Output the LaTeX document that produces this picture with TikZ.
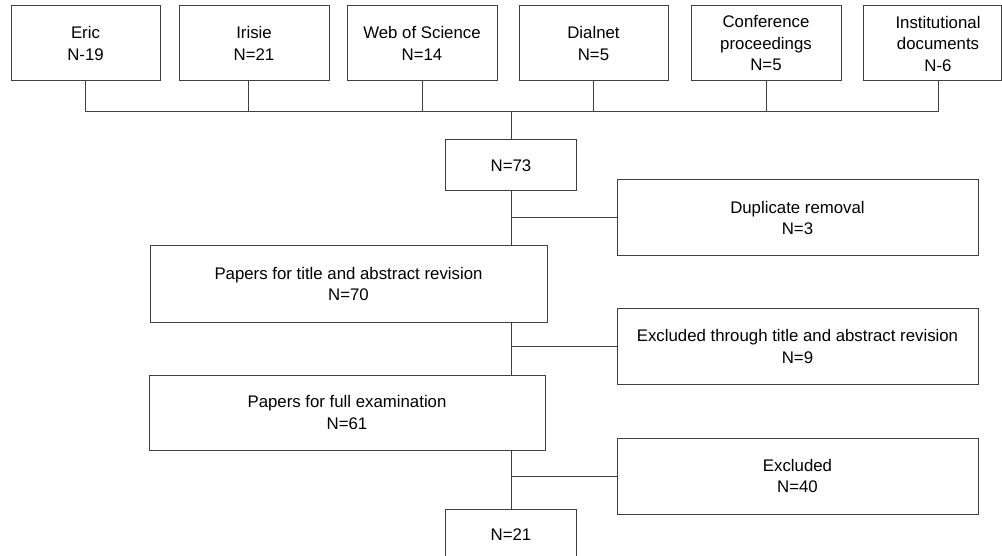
\documentclass[tikz,border=0pt]{standalone}
\usepackage{fontspec}
\setmainfont{Liberation Sans}
\usetikzlibrary{positioning}
\definecolor{linegray}{HTML}{404040}
\tikzset{
  flow box/.style={
    draw=linegray,
    line width=1pt,
    inner sep=0pt,
    align=center,
    minimum height=75
  },
  src box/.style={
    flow box,
    minimum width=150
  },
  flow line/.style={draw=linegray, line width=1pt}
}

\begin{document}
\begin{tikzpicture}[x=1pt, y=-1pt, font=\fontsize{16.8}{21.5}\selectfont]

  \useasboundingbox (0, 0) rectangle (1002, 556);

  % sources
  \node[src box, minimum width=149] (eric) at (85.5, 43.5) {Eric\\N-19};
  \node[src box] (irisie) at (254, 43.5) {Irisie\\N=21};
  \node[src box] (wos) at (422, 43.5) {Web of Science\\N=14};
  \node[src box, minimum width=149] (dialnet) at (593.5, 43.5) {Dialnet\\N=5};
  \node[src box] (conf) at (766, 43.5) {Conference\\proceedings\\N=5};
  \node[src box, minimum width=138,
        label={[align=center, xshift=6]center:Institutional\\documents\\N-6}] (inst) at (932, 43.5) {};

  \coordinate (bus) at (511, 112);
  \coordinate (irisie drop) at ([xshift=-6]irisie.south);
  \coordinate (inst drop) at ([xshift=6]inst.south);

  % flow
  \node[flow box, minimum width=131, minimum height=51] (pool) at (511, 165.5) {N=73};
  \node[flow box, minimum width=361, minimum height=76] (dup) at (797.5, 218) {Duplicate removal\\N=3};
  \node[flow box, minimum width=397, minimum height=76] (screen) at (348.5, 284) {Papers for title and abstract revision\\N=70};
  \node[flow box, minimum width=361] (exscreen) at (797.5, 346.5) {Excluded through title and abstract revision\\N=9};
  \node[flow box, minimum width=396] (full) at (347, 412.5) {Papers for full examination\\N=61};
  \node[flow box, minimum width=361, minimum height=76] (exfull) at (797.5, 476) {Excluded\\N=40};
  \node[flow box, minimum width=131, minimum height=51] (final) at (511, 534.5) {N=21};

  % merge of the sources
  \draw[flow line] (eric.south) -- (eric.south |- bus);
  \draw[flow line] (irisie drop) -- (irisie drop |- bus);
  \draw[flow line] (wos.south) -- (wos.south |- bus);
  \draw[flow line] (dialnet.south) -- (dialnet.south |- bus);
  \draw[flow line] (conf.south) -- (conf.south |- bus);
  \draw[flow line] (inst drop) -- (inst drop |- bus);
  \draw[flow line] (eric.south |- bus) -- (inst drop |- bus);
  \draw[flow line] (bus) -- (pool.north);

  % spine and branches
  \draw[flow line] (pool.south) -- (pool.south |- screen.north);
  \draw[flow line] (pool.south |- dup.west) -- (dup.west);
  \draw[flow line] (pool.south |- screen.south) -- (pool.south |- full.north);
  \draw[flow line] (pool.south |- exscreen.west) -- (exscreen.west);
  \draw[flow line] (pool.south |- full.south) -- (final.north);
  \draw[flow line] (pool.south |- exfull.west) -- (exfull.west);

\end{tikzpicture}
\end{document}
